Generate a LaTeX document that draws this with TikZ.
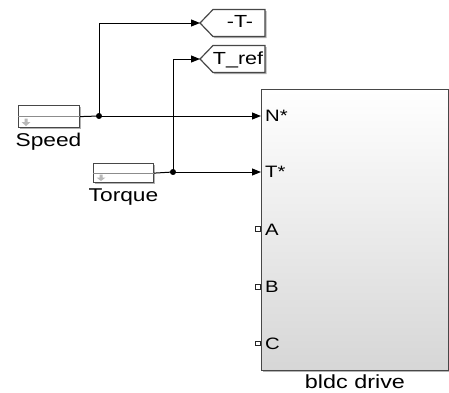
\documentclass[tikz,border=0pt]{standalone}
\usepackage{fontspec}
\setmainfont{Liberation Sans}
\usetikzlibrary{arrows.meta}
\newcommand{\sx}[1]{\scalebox{1.23}[1]{#1}}
\begin{document}
\begin{tikzpicture}[x=1pt,y=-1pt,
  sig/.style={line width=1pt, black},
  arr/.style={sig, -{Triangle[length=9pt,width=7pt]}},
  blk/.style={draw=black!72, line width=1.2pt},
  shad/.style={fill=black!30},
  lbl/.style={font=\fontsize{18.5}{18.5}\selectfont, inner sep=0pt, anchor=base},
  tlbl/.style={font=\fontsize{17.5}{17.5}\selectfont, inner sep=0pt, anchor=base},
  plbl/.style={font=\fontsize{16.5}{16.5}\selectfont, inner sep=0pt, anchor=base west},
  dot/.style={circle, fill=black, draw=black, inner sep=0pt, minimum size=5.5pt},
  portsq/.style={draw=black!85, fill=white, line width=1pt, inner sep=0pt, minimum size=4.5pt},
  src/.style={blk, fill=white, inner sep=0pt, anchor=north west}
]
\useasboundingbox (0,0) rectangle (449,392);

% main block
\fill[shad] (263,91) rectangle (450,372);
\node[blk, top color=white, bottom color=black!16, minimum width=187pt, minimum height=281pt,
      inner sep=0pt, anchor=north west] (drive) at (261,89) {};
\node[lbl, font=\fontsize{19}{19}\selectfont] (drivelbl) at (355,388.3) {\sx{bldc drive}};

% ports
\node[plbl] (pN) at (265,121.7) {\sx{N*}};
\node[plbl] (pT) at (265,177.5) {\sx{T*}};
\node[plbl] (pA) at (265,235.5) {\sx{A}};
\node[plbl] (pB) at (265,292.5) {\sx{B}};
\node[plbl] (pC) at (265,349.5) {\sx{C}};
\node[portsq] (sqA) at (258,229) {};
\node[portsq] (sqB) at (258,287) {};
\node[portsq] (sqC) at (258,343.3) {};

% source blocks
\fill[shad] (19.5,106.5) rectangle (80.5,128.5);
\node[src, minimum width=61pt, minimum height=22pt] (speed) at (18,105) {};
\draw[black!45, line width=0.6pt] (speed.west) -- (speed.east);
\fill[black!28] (24.5,118.5) rectangle (27.5,122) (21.5,122) -- (30.5,122) -- (26,126) -- cycle;
\node[lbl] (speedlbl) at (48.5,146.6) {\sx{Speed}};

\fill[shad] (94.5,164.5) rectangle (154.5,183.5);
\node[src, minimum width=60pt, minimum height=19pt] (torque) at (93,163) {};
\draw[black!45, line width=0.6pt] (torque.west) -- (torque.east);
\fill[black!28] (99.5,174.5) rectangle (102.5,177.5) (96.5,177.5) -- (105.5,177.5) -- (101,181) -- cycle;
\node[lbl] (torquelbl) at (123.5,201.6) {\sx{Torque}};

% goto tags
\coordinate (tagTtip) at (200,23);
\fill[shad] (201.5,24.5) -- ++(13,-13.5) -- ++(52,0) -- ++(0,27) -- ++(-52,0) -- cycle;
\draw[blk, fill=white] (tagTtip) -- ++(13,-13.5) -- ++(52,0) -- ++(0,27) -- ++(-52,0) -- cycle;
\node[tlbl] (tagT) at (240,27.5) {\sx{-T-}};

\coordinate (tagRtip) at (200,59);
\fill[shad] (201.5,60.5) -- ++(13,-13.5) -- ++(52,0) -- ++(0,27) -- ++(-52,0) -- cycle;
\draw[blk, fill=white] (tagRtip) -- ++(13,-13.5) -- ++(52,0) -- ++(0,27) -- ++(-52,0) -- cycle;
\node[tlbl] (tagR) at (238,64.5) {\sx{T\_ref}};

% signals
\draw[sig] (speed.east) -- (99,116);
\draw[sig] (torque.east) -- (173,172);
\node[dot] (j1) at (99,116) {};
\node[dot] (j2) at (173,172) {};
\draw[arr] (j1.center) -- (j1 -| drive.west);
\draw[arr] (j2.center) -- (j2 -| drive.west);
\draw[arr] (j1.center) |- (tagTtip);
\draw[arr] (j2.center) |- (tagRtip);
\end{tikzpicture}
\end{document}
